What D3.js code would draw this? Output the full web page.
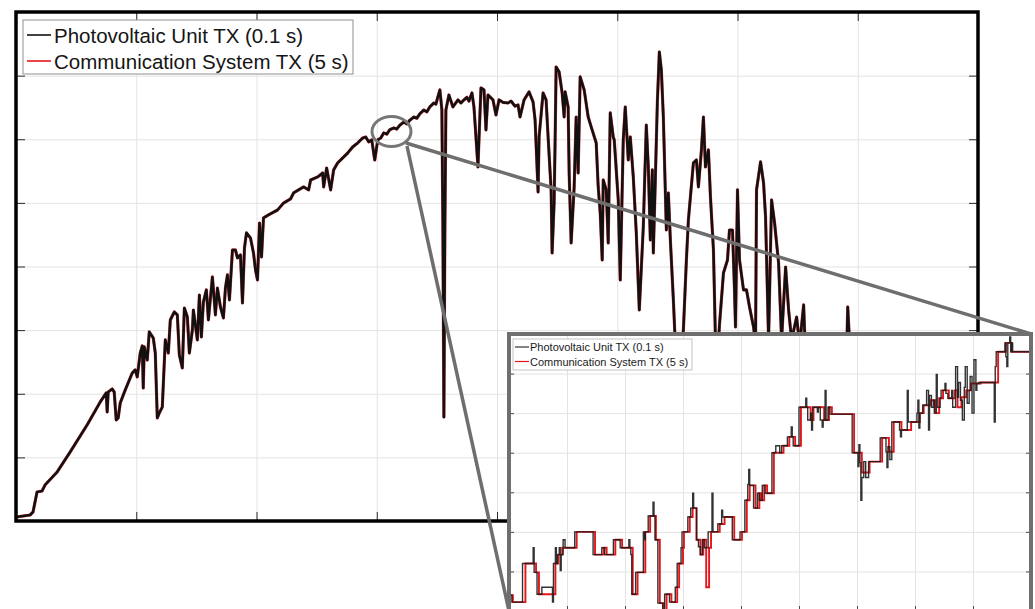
<!DOCTYPE html>
<html>
<head>
<meta charset="utf-8">
<script src="https://cdn.jsdelivr.net/npm/d3@7"></script>
<style>
  html, body { margin: 0; padding: 0; background: #fff; }
  svg { display: block; font-family: "Liberation Sans", Arial, Helvetica, sans-serif; }
</style>
</head>
<body>
<svg id="chart" width="1035" height="609"></svg>
<script>
// ---- Daily photovoltaic output: minutes after 05:00 and watts ----
const pvMinutes = [
  0, 14, 17, 21, 26, 29, 41, 54, 71, 84,
  90, 91, 92, 96, 98, 100, 102, 104, 109, 116,
  119, 121, 124, 126, 127, 128, 131, 133, 137, 139,
  141, 143, 146, 149, 152, 154, 158, 161, 163, 166,
  168, 171, 173, 176, 177, 181, 183, 185, 187, 190,
  192, 196, 199, 201, 204, 207, 209, 211, 213, 216,
  219, 221, 224, 226, 228, 230, 234, 237, 239, 241,
  243, 245, 247, 252, 261, 267, 274, 277, 287, 292,
  294, 301, 306, 307, 310, 314, 317, 321, 326, 331,
  336, 341, 346, 349, 352, 355, 358, 361, 364, 367, 370, 373, 377, 380, 383,
  387, 390, 393, 397, 400, 403, 407, 410, 413, 417, 419, 421, 423, 425, 426, 427, 428,
  429, 432, 436, 441, 444, 447, 450, 452, 455, 457, 461, 462, 464,
  467, 469, 471, 476, 479, 482, 486, 491, 494, 498, 501, 503, 507,
  512, 516, 518, 521, 522, 526, 529, 531, 534, 535,
  537, 538, 539, 542, 545, 547, 548, 551, 552, 554,
  557, 559, 561, 563, 567, 571, 574, 579, 581, 583,
  585, 586, 589, 591, 593, 596, 597, 601, 603, 606,
  608, 611, 613, 616, 619, 622, 626, 629, 631, 633,
  635, 636, 638, 640, 642, 644, 646, 649, 651, 653,
  656, 658, 662, 666, 669, 671, 676, 679, 681, 684,
  686, 688, 691, 693, 696, 698, 700, 702, 706, 710,
  712, 715, 717, 718, 720, 722, 726, 729, 732, 736,
  738, 739, 743, 746, 748, 751, 754, 757, 761, 764,
  768, 771, 774, 779, 782, 786, 788, 799, 814, 829,
  830, 832, 844, 864, 884, 914, 960
];
const pvWatts = [
  31, 47, 71, 228, 236, 283, 385, 542, 755, 935,
  1006, 857, 1014, 1038, 1014, 794, 810, 927, 1030, 1163,
  1187, 1132, 1320, 1376, 1045, 1368, 1265, 1486, 1438, 1320,
  810, 849, 896, 1423, 1320, 1580, 1643, 1619, 1305, 1203,
  1674, 1603, 1320, 1501, 1658, 1423, 1776, 1446, 1721, 1816,
  1580, 1918, 1619, 1831, 1682, 1596, 1831, 1934, 1737, 2130,
  2130, 2067, 2091, 1713, 2146, 2264, 2224, 2106, 1973, 1894,
  2342, 2075, 2382, 2405, 2444, 2499, 2531, 2578, 2625, 2602,
  2680, 2704, 2735, 2625, 2774, 2602, 2759, 2814, 2853, 2892,
  2940, 2971, 3010, 3018, 2979, 2995, 2837, 2995, 3010, 3050, 3040, 3075, 3089, 3080, 3110,
  3136, 3120, 3150, 3175, 3165, 3200, 3230, 3215, 3255, 3285, 3275, 3333, 3388, 3230, 2311, 817, 2311,
  3230, 3348, 3254, 3309, 3285, 3309, 3330, 3300, 3364, 3254, 2782, 2995, 3403,
  3388, 3073, 3348, 3309, 3191, 3309, 3290, 3285, 3300, 3260, 3270, 3175, 3309,
  3372, 3293, 3152, 2586, 3018, 3364, 3309, 3018, 2602, 2106,
  2499, 2995, 3568, 3529, 3364, 3175, 3372, 3254, 2735, 2185,
  2625, 3175, 2735, 3490, 3388, 3175, 3097, 2971, 2625, 2421,
  2051, 2680, 2602, 2185, 3207, 3018, 2995, 2523, 1894, 2995,
  3254, 2837, 3018, 2704, 2264, 1658, 2311, 3112, 2782, 2209,
  2759, 2106, 2680, 3285, 3686, 3545, 3175, 2287, 2578, 2209,
  1737, 1383, 1108, 1501, 2051, 2366, 2814, 2837, 2625, 2916,
  3175, 2782, 2916, 2547, 2130, 1423, 1265, 1540, 1949, 2051,
  2287, 2287, 1816, 1525, 2602, 2051, 1816, 1816, 1682, 1525,
  1383, 2602, 2822, 2657, 2390, 1423, 2523, 2342, 2028, 1423,
  1996, 1658, 1423, 1603, 1383, 1698, 1265, 951, 1108, 1344,
  1682, 1383, 794, 401, 126, 47, 24
];

// ---- Detail window: seconds from window start and watts ----
// Photovoltaic unit, sampled every 0.1 s (level changes only)
const zoomPvSeconds = [
  0, 3, 14, 25, 26, 29, 34, 45, 46, 48,
  49, 50, 52, 53, 54, 56, 58, 68, 87, 96,
  99, 108, 115, 124, 125, 126, 127, 131, 139, 140,
  141, 144, 149, 150, 151, 154, 159, 161, 166, 172,
  174, 178, 179, 185, 188, 190, 191, 194, 196, 198,
  200, 202, 206, 210, 211, 216, 220, 221, 231, 239,
  244, 247, 248, 249, 253, 257, 259, 262, 265, 272,
  276, 280, 282, 288, 292, 293, 294, 300, 307, 308,
  309, 312, 313, 314, 319, 320, 322, 324, 325, 327,
  328, 330, 332, 355, 361, 362, 363, 364, 365, 367,
  369, 372, 384, 390, 391, 392, 394, 396, 404, 405,
  406, 412, 413, 422, 423, 424, 425, 428, 432, 434,
  435, 437, 439, 440, 442, 443, 446, 447, 451, 452,
  454, 458, 459, 462, 464, 465, 467, 469, 471, 472,
  474, 476, 477, 479, 481, 483, 484, 486, 502, 503,
  504, 513, 514, 515, 516, 518, 519, 520, 521, 540
];
const zoomPvWatts = [
  2966, 2959, 2998, 3014, 2989, 2967, 2974, 2959, 2998, 3014,
  2998, 3007, 3014, 2991, 3007, 3022, 3014, 3030, 3007, 3014,
  3007, 3022, 3014, 3022, 3014, 3007, 2967, 2989, 3030, 3022,
  3030, 3046, 3060, 3046, 3022, 2958, 2950, 2967, 2959, 2974,
  2998, 3014, 3030, 3045, 3054, 3069, 3054, 3022, 3015, 3007,
  3022, 3014, 3030, 3069, 3030, 3038, 3052, 3045, 3022, 3030,
  3062, 3078, 3093, 3077, 3054, 3069, 3062, 3077, 3069, 3110,
  3117, 3110, 3117, 3126, 3136, 3126, 3117, 3156, 3165, 3156,
  3143, 3150, 3133, 3156, 3151, 3156, 3143, 3136, 3143, 3173,
  3143, 3156, 3149, 3110, 3096, 3118, 3100, 3062, 3085, 3101,
  3085, 3101, 3125, 3111, 3095, 3116, 3103, 3141, 3133, 3126,
  3133, 3173, 3141, 3150, 3163, 3135, 3150, 3158, 3173, 3133,
  3168, 3156, 3163, 3150, 3189, 3156, 3165, 3173, 3180, 3170,
  3165, 3173, 3156, 3197, 3166, 3181, 3163, 3143, 3176, 3197,
  3160, 3173, 3187, 3150, 3204, 3173, 3180, 3181, 3141, 3197,
  3212, 3221, 3207, 3197, 3221, 3227, 3212, 3221, 3212, 3212
];
// Communication system, transmitted every 5 s
const zoomCommSeconds = [
  0, 4, 17, 28, 31, 48, 51, 55, 70, 89,
  98, 101, 110, 117, 128, 133, 141, 146, 152, 156,
  160, 163, 168, 174, 176, 180, 181, 187, 190, 194,
  198, 201, 204, 207, 209, 218, 223, 233, 241, 246,
  249, 255, 259, 261, 264, 267, 274, 284, 290, 296,
  302, 312, 315, 326, 331, 334, 357, 365, 373, 386,
  393, 398, 406, 416, 425, 429, 436, 441, 445, 449,
  455, 461, 464, 468, 473, 478, 488, 506, 514, 520,
  540
];
const zoomCommWatts = [
  2966, 2959, 2998, 2989, 2967, 2998, 3007, 3014, 3030, 3007,
  3014, 3007, 3022, 3014, 2967, 2989, 3030, 3046, 3022, 2958,
  2950, 2967, 2959, 2974, 2998, 3014, 3030, 3045, 3054, 3022,
  3007, 3022, 2974, 3014, 3030, 3038, 3045, 3022, 3030, 3062,
  3077, 3054, 3069, 3062, 3077, 3069, 3110, 3117, 3126, 3117,
  3156, 3143, 3156, 3143, 3156, 3149, 3110, 3090, 3101, 3125,
  3111, 3141, 3133, 3141, 3150, 3158, 3163, 3150, 3165, 3173,
  3165, 3173, 3156, 3166, 3173, 3180, 3181, 3212, 3221, 3212,
  3212
];

// ---- Tick positions (axes carry no labels) ----
const mainXTicks = [0, 120, 240, 360, 480, 600, 720, 840, 960];
const mainYTicks = [0, 500, 1000, 1500, 2000, 2500, 3000, 3500, 4000];
const zoomXTicks = [0, 60, 120, 180, 240, 300, 360, 420, 480, 540];
const zoomYTicks = [2950, 2990, 3030, 3070, 3110, 3150, 3190, 3230];

const seriesNames = ["Photovoltaic Unit TX (0.1 s)", "Communication System TX (5 s)"];
const seriesColors = ["#111111", "#e3161b"];

// ---------------------------------------------------------------
const svg = d3.select("#chart");
const gridColor = "#e3e3e3";

function drawGrid(g, xs, ys, xt, yt, box) {
  const h = box.bottom - box.top, w = box.right - box.left;
  g.append("g").attr("transform", `translate(0,${box.bottom})`)
    .call(d3.axisBottom(xs).tickValues(xt).tickSize(-h).tickFormat(""))
    .call(a => a.select(".domain").remove())
    .call(a => a.selectAll("line").attr("stroke", gridColor).attr("stroke-width", 1));
  g.append("g").attr("transform", `translate(${box.left},0)`)
    .call(d3.axisLeft(ys).tickValues(yt).tickSize(-w).tickFormat(""))
    .call(a => a.select(".domain").remove())
    .call(a => a.selectAll("line").attr("stroke", gridColor).attr("stroke-width", 1));
}
function drawInwardTicks(g, xs, ys, xt, yt, box, tickLen, tickColor, sides) {
  const style = a => {
    a.select(".domain").remove();
    a.selectAll("line").attr("stroke", tickColor).attr("stroke-width", 1);
  };
  if (sides.includes("b")) g.append("g").attr("transform", `translate(0,${box.bottom})`)
    .call(d3.axisBottom(xs).tickValues(xt).tickSize(-tickLen).tickFormat("")).call(style);
  if (sides.includes("t")) g.append("g").attr("transform", `translate(0,${box.top})`)
    .call(d3.axisTop(xs).tickValues(xt).tickSize(-tickLen).tickFormat("")).call(style);
  if (sides.includes("l")) g.append("g").attr("transform", `translate(${box.left},0)`)
    .call(d3.axisLeft(ys).tickValues(yt).tickSize(-tickLen).tickFormat("")).call(style);
  if (sides.includes("r")) g.append("g").attr("transform", `translate(${box.right},0)`)
    .call(d3.axisRight(ys).tickValues(yt).tickSize(-tickLen).tickFormat("")).call(style);
}

// ================= main daily plot =================
const mainBox = { left: 16, right: 978, top: 12, bottom: 521 };
const x = d3.scaleLinear().domain([0, 960]).range([mainBox.left, mainBox.right]);
const y = d3.scaleLinear().domain([0, 4000]).range([mainBox.bottom, mainBox.top]);

const gMain = svg.append("g");
drawGrid(gMain, x, y, mainXTicks, mainYTicks, mainBox);
drawInwardTicks(gMain, x, y, mainXTicks, mainYTicks, mainBox, 9, "#2a2a2a", "btlr");

svg.append("clipPath").attr("id", "clipMain").append("rect")
  .attr("x", mainBox.left).attr("y", mainBox.top)
  .attr("width", mainBox.right - mainBox.left).attr("height", mainBox.bottom - mainBox.top);

const mainLine = d3.line()
  .x(i => x(pvMinutes[i]))
  .y(i => y(pvWatts[i]));
const idx = d3.range(pvMinutes.length);

// 5 s transmissions follow the same daily profile; drawn underneath
gMain.append("path").attr("clip-path", "url(#clipMain)")
  .attr("d", mainLine(idx))
  .attr("fill", "none").attr("stroke", seriesColors[1])
  .attr("stroke-width", 3.2).attr("stroke-linejoin", "round").attr("opacity", 0.75);
gMain.append("path").attr("clip-path", "url(#clipMain)")
  .attr("d", mainLine(idx))
  .attr("fill", "none").attr("stroke", seriesColors[0])
  .attr("stroke-width", 2.6).attr("stroke-linejoin", "round");

gMain.append("rect")
  .attr("x", mainBox.left).attr("y", mainBox.top)
  .attr("width", mainBox.right - mainBox.left).attr("height", mainBox.bottom - mainBox.top)
  .attr("fill", "none").attr("stroke", "#000").attr("stroke-width", 3.5);

// legend
const legMain = svg.append("g").attr("transform", "translate(23,20)");
legMain.append("rect").attr("width", 330).attr("height", 54)
  .attr("fill", "#fff").attr("stroke", "#8f8f8f").attr("stroke-width", 1);
seriesNames.forEach((name, i) => {
  const yy = 15 + i * 26;
  legMain.append("line").attr("x1", 4).attr("x2", 28).attr("y1", yy).attr("y2", yy)
    .attr("stroke", seriesColors[i]).attr("stroke-width", 1.6);
  legMain.append("text").attr("x", 31).attr("y", yy + 8)
    .attr("font-size", 20.5).attr("fill", "#151515").text(name);
});

// ================= zoom marker and connectors =================
svg.append("ellipse").attr("cx", 391.5).attr("cy", 131.5).attr("rx", 19.5).attr("ry", 15)
  .attr("fill", "none").attr("stroke", "#767676").attr("stroke-width", 3);

const insetBox = { left: 509, right: 1031, top: 334, bottom: 611 };
svg.append("line").attr("x1", 406).attr("y1", 143).attr("x2", insetBox.right).attr("y2", insetBox.top)
  .attr("stroke", "#6e6e6e").attr("stroke-width", 3.5);
svg.append("line").attr("x1", 407).attr("y1", 146).attr("x2", insetBox.left).attr("y2", insetBox.bottom)
  .attr("stroke", "#6e6e6e").attr("stroke-width", 3.5);

// ================= detail window =================
const xs = d3.scaleLinear().domain([0, 540]).range([insetBox.left, insetBox.right]);
const ys = d3.scaleLinear().domain([2950, 3230]).range([insetBox.bottom, insetBox.top]);

const gInset = svg.append("g");
gInset.append("rect")
  .attr("x", insetBox.left).attr("y", insetBox.top)
  .attr("width", insetBox.right - insetBox.left).attr("height", insetBox.bottom - insetBox.top)
  .attr("fill", "#fff");
drawGrid(gInset, xs, ys, zoomXTicks, zoomYTicks, insetBox);
drawInwardTicks(gInset, xs, ys, zoomXTicks, zoomYTicks, insetBox, 5, "#4a4a4a", "blr");

svg.append("clipPath").attr("id", "clipInset").append("rect")
  .attr("x", insetBox.left).attr("y", insetBox.top)
  .attr("width", insetBox.right - insetBox.left).attr("height", insetBox.bottom - insetBox.top);

const commLine = d3.line().curve(d3.curveStepAfter)
  .x(i => xs(zoomCommSeconds[i])).y(i => ys(zoomCommWatts[i]));
const pvLine = d3.line().curve(d3.curveStepAfter)
  .x(i => xs(zoomPvSeconds[i])).y(i => ys(zoomPvWatts[i]));

gInset.append("path").attr("clip-path", "url(#clipInset)")
  .attr("d", commLine(d3.range(zoomCommSeconds.length)))
  .attr("fill", "none").attr("stroke", seriesColors[1]).attr("stroke-width", 1.9);
gInset.append("path").attr("clip-path", "url(#clipInset)")
  .attr("d", pvLine(d3.range(zoomPvSeconds.length)))
  .attr("fill", "none").attr("stroke", "#1c1c1c").attr("stroke-width", 1.4).attr("opacity", 0.9);

gInset.append("rect")
  .attr("x", insetBox.left).attr("y", insetBox.top)
  .attr("width", insetBox.right - insetBox.left).attr("height", insetBox.bottom - insetBox.top)
  .attr("fill", "none").attr("stroke", "#6f6f6f").attr("stroke-width", 4);

// inset legend
const legInset = gInset.append("g").attr("transform", "translate(513,339)");
legInset.append("rect").attr("width", 179).attr("height", 31)
  .attr("fill", "#fff").attr("stroke", "#b5b5b5").attr("stroke-width", 0.8);
seriesNames.forEach((name, i) => {
  const yy = 8 + i * 14.5;
  legInset.append("line").attr("x1", 2).attr("x2", 16).attr("y1", yy).attr("y2", yy)
    .attr("stroke", i === 0 ? "#333" : seriesColors[1]).attr("stroke-width", 1.2);
  legInset.append("text").attr("x", 17).attr("y", yy + 4)
    .attr("font-size", 11).attr("fill", "#1a1a1a").text(name);
});
</script>
</body>
</html>
